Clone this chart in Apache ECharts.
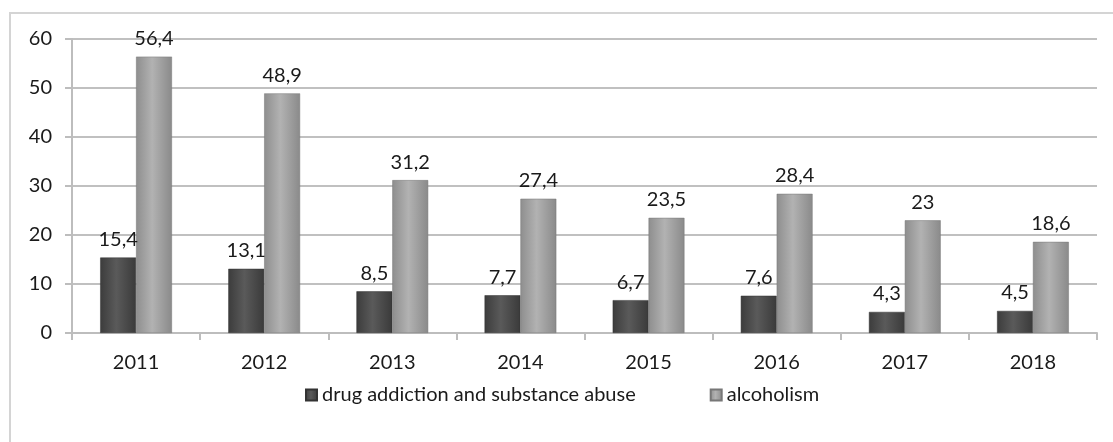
<!DOCTYPE html>
<html><head><meta charset="utf-8">
<script src="https://cdn.jsdelivr.net/npm/echarts@6/dist/echarts.min.js"></script>
<style>html,body{margin:0;padding:0;background:#fff}#c{width:1113px;height:442px}</style>
</head><body><div id="c"></div>
<script>
const categories = ['2011','2012','2013','2014','2015','2016','2017','2018'];
const drugValues = [15.4, 13.1, 8.5, 7.7, 6.7, 7.6, 4.3, 4.5];
const alcoholValues = [56.4, 48.9, 31.2, 27.4, 23.5, 28.4, 23, 18.6];
const seriesNames = ['drug addiction and substance abuse', 'alcoholism'];
const yTicks = {min: 0, max: 60, interval: 10};

const FONT = 'Lato';
function grad(c1, c2, c3) {
  return new echarts.graphic.LinearGradient(0, 0, 1, 0, [
    {offset: 0, color: c1}, {offset: 0.45, color: c2}, {offset: 1, color: c3}
  ]);
}
const chart = echarts.init(document.getElementById('c'), null, {renderer: 'canvas'});
const lbl = {
  show: true, position: 'top', distance: 8, color: '#1a1a1a', fontFamily: FONT, fontSize: 20,
  formatter: p => String(p.value).replace('.', ',')
};
chart.setOption({
  animation: false,
  backgroundColor: '#fff',
  graphic: [{
    type: 'rect', shape: {x: 10, y: 13, width: 1120, height: 450},
    style: {fill: 'none', stroke: '#d4d4d4', lineWidth: 2}, z: -1
  }],
  grid: {left: 72, right: 16, top: 39, bottom: 109},
  legend: {
    data: seriesNames, top: 380, left: 300, itemGap: 74,
    itemWidth: 11, itemHeight: 11, icon: 'rect',
    textStyle: {fontFamily: FONT, fontSize: 20, color: '#1a1a1a'}
  },
  xAxis: {
    type: 'category', data: categories,
    axisLine: {lineStyle: {color: '#bdbdbd', width: 2}},
    axisTick: {show: true, length: 7, lineStyle: {color: '#bdbdbd', width: 2}},
    axisLabel: {fontFamily: FONT, fontSize: 20, color: '#1a1a1a', margin: 20}
  },
  yAxis: {
    type: 'value', min: yTicks.min, max: yTicks.max, interval: yTicks.interval,
    axisLine: {show: true, lineStyle: {color: '#bdbdbd', width: 2}},
    axisTick: {show: true, length: 7, lineStyle: {color: '#bdbdbd', width: 2}},
    splitLine: {lineStyle: {color: '#c0c0c0', width: 2}},
    axisLabel: {fontFamily: FONT, fontSize: 20, color: '#1a1a1a', margin: 20}
  },
  series: [
    {
      name: seriesNames[0], type: 'bar', data: drugValues, barGap: '0%', barCategoryGap: '44%',
      itemStyle: {color: grad('#3c3c3c', '#5a5a5a', '#3a3a3a'), borderColor: '#333', borderWidth: 0.5},
      label: lbl
    },
    {
      name: seriesNames[1], type: 'bar', data: alcoholValues, barGap: '0%', barCategoryGap: '44%',
      itemStyle: {color: grad('#8e8e8e', '#b2b2b2', '#8a8a8a'), borderColor: '#777', borderWidth: 0.5},
      label: lbl
    }
  ]
});
</script></body></html>
